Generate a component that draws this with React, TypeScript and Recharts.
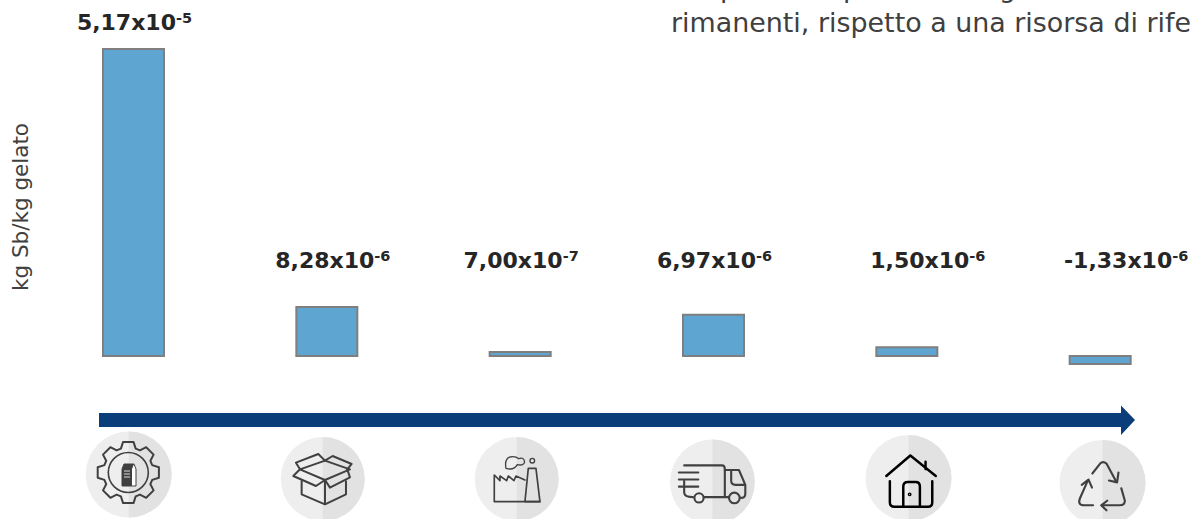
import React from 'react';
import { BarChart, Bar, XAxis, YAxis, Cell, LabelList } from 'recharts';

// values in units of 1e-6 kg Sb/kg gelato
const stages = ['materie prime', 'imballaggio', 'produzione', 'trasporto', 'consumo', 'fine vita'];
const values = [51.7, 8.28, 0.7, 6.97, 1.5, -1.33];
const mantissas = ['5,17', '8,28', '7,00', '6,97', '1,50', '-1,33'];
const exponents = ['-5', '-6', '-7', '-6', '-6', '-6'];

const data = stages.map((stage, i) => ({ stage, value: values[i] }));

const FONT = '"DejaVu Sans", Verdana, sans-serif';
const labelShift = [1, 6, 1, 1, 21, 26];

const ValueLabel = (props: any) => {
  const { x, width, index } = props;
  return (
    <text
      x={x + width / 2 + labelShift[index]}
      y={index === 0 ? 30 : 268}
      textAnchor="middle"
      fontFamily={FONT}
      fontWeight="bold"
      fontSize={22}
      fill="#262626"
    >
      {mantissas[index]}x10
      <tspan fontSize={14.5} dy={-7}>{exponents[index]}</tspan>
    </text>
  );
};

const Badge = ({ cx, cy, r }: { cx: number; cy: number; r: number }) => (
  <g>
    <circle cx={cx} cy={cy} r={r} fill="#eeeeee" />
    <path d={`M${cx} ${cy - r} A${r} ${r} 0 0 1 ${cx} ${cy + r} Z`} fill="#e2e2e2" />
  </g>
);

const Gear = () => {
  const pts: string[] = [];
  const cx = 128.3;
  const cy = 472.5;
  for (let i = 0; i < 8; i++) {
    const a = (i * Math.PI) / 4 - Math.PI / 2;
    const p = (r: number, d: number) =>
      `${(cx + r * Math.cos(a + d)).toFixed(1)} ${(cy + r * Math.sin(a + d)).toFixed(1)}`;
    pts.push(`${i === 0 ? 'M' : 'L'}${p(25, -0.3)}`, `L${p(31, -0.17)}`, `L${p(31, 0.17)}`, `L${p(25, 0.3)}`);
  }
  return (
    <g fill="none" stroke="#404040">
      <path d={pts.join(' ') + ' Z'} strokeWidth={2} strokeLinejoin="round" />
      <circle cx={cx} cy={cy} r={20} strokeWidth={1.6} />
      <path d="M122 469 L124 464 H134 L136 469 V486 H122 Z" fill="#fff" strokeWidth={1} />
      <path d="M122 469 H132 V486 H122 Z M124 464 H134 L132 469 H122 Z" fill="#404040" stroke="none" />
      <path d="M124 471 H130 M124 474 H130 M124 477 H130" stroke="#d9d9d9" strokeWidth={1} />
    </g>
  );
};

const Icons = () => (
  <g>
    <Badge cx={128.7} cy={474.5} r={43} />
    <Badge cx={322.7} cy={479} r={42} />
    <Badge cx={516.7} cy={479} r={42} />
    <Badge cx={712.4} cy={482} r={42.4} />
    <Badge cx={908.5} cy={478} r={43} />
    <Badge cx={1102.5} cy={483} r={43} />
    <Gear />
    <g transform="translate(60 400) scale(0.3333)" fill="none" stroke="#404040" strokeWidth={6} strokeLinejoin="round" strokeLinecap="round">
      {/* box */}
      <path d="M725 244 V283 L795 313 L858 283 V244 M795 240 V313" />
      <path d="M720 208 L795 182 L870 208 L795 240 Z" />
      <path d="M720 208 L708 188 L775 162 L795 182 L818 168 L875 192 L862 208" />
      <path d="M720 208 L700 228 L768 258 L795 240 L810 263 L870 232 L862 208" />
      {/* factory */}
      <path d="M1395 305 L1405 205 H1428 L1440 305 Z" strokeWidth={5} />
      <path d="M1303 305 V225 L1320 242 V228 L1340 242 L1345 228 L1362 242 L1368 228 L1395 240 M1303 305 H1440" strokeWidth={5} />
      <path d="M1338 205 Q1332 170 1358 170 Q1370 170 1376 176 Q1392 170 1394 186 Q1392 198 1372 194 Q1362 212 1338 205 Z" strokeWidth={4} />
      <circle cx={1417} cy={182} r={7} strokeWidth={4} />
    </g>
    <g transform="translate(640 400) scale(0.3534)" fill="none" stroke="#404040" strokeWidth={6} strokeLinejoin="round" strokeLinecap="round">
      {/* truck */}
      <path d="M125 185 H232 Q240 185 240 195 V275 M125 230 V262 Q125 275 150 275 M110 205 H165 M110 225 H165 M110 245 H165 M182 275 H250" />
      <circle cx={167} cy={277} r={13} />
      <circle cx={267} cy={277} r={15} />
      <path d="M240 198 H280 L298 240 V265 Q298 277 285 277 M258 202 V228 Q258 240 270 240 H297" />
      {/* house */}
      <g stroke="#000000" strokeWidth={7}>
        <path d="M697 215 L765 157 L837 215 M808 175 V195" />
        <path d="M707 230 V290 Q707 302 720 302 H815 Q827 302 827 290 V230" />
        <path d="M745 302 V245 Q745 232 758 232 H780 Q792 232 792 245 V302" />
        <circle cx={763} cy={267} r={2} />
      </g>
      {/* recycle */}
      <g transform="translate(-8 0)">
        <path d="M1288 208 L1310 180 Q1318 172 1328 180 L1355 230 M1335 228 L1358 233 L1362 205" />
        <path d="M1370 250 L1380 285 Q1380 298 1365 298 H1315 M1330 285 L1313 298 L1328 312" />
        <path d="M1290 298 H1265 Q1245 298 1253 278 L1275 228 M1258 240 L1277 225 L1287 248" />
      </g>
    </g>
  </g>
);

export default function App() {
  return (
    <div style={{ position: 'absolute', left: 0, top: 0, width: 1191, height: 519, overflow: 'hidden', background: '#fff' }}>
      <BarChart
        width={1197}
        height={519}
        data={data}
        margin={{ top: 49, right: 0, bottom: 155, left: 37 }}
        barCategoryGap={0}
      >
        <XAxis dataKey="stage" hide />
        <YAxis hide domain={[-1.33, 51.7]} />
        <Bar dataKey="value" barSize={61} fill="#5fa5d1" stroke="#7f7f7f" strokeWidth={2} isAnimationActive={false}>
          {data.map((d) => (
            <Cell key={d.stage} fill="#5fa5d1" />
          ))}
          <LabelList dataKey="value" content={ValueLabel} />
        </Bar>
      </BarChart>
      <svg width={1191} height={519} style={{ position: 'absolute', left: 0, top: 0 }}>
        <text transform="translate(28 207) rotate(-90)" textAnchor="middle" fontFamily={FONT} fontSize={21.5} fill="#404040">
          kg Sb/kg gelato
        </text>
        {/* only the descenders of the line above survive the crop */}
        <text y={-3} fontFamily={FONT} fontSize={26.9} fill="#404040">
          <tspan x={720}>p</tspan>
          <tspan x={843}>p</tspan>
          <tspan x={999}>g</tspan>
        </text>
        <text x={671} y={32} fontFamily={FONT} fontSize={26.9} fill="#404040">
          rimanenti, rispetto a una risorsa di rife
        </text>
        <path d="M99 413 H1121 V405.5 L1135 420 L1121 435 V427 H99 Z" fill="#0a3d7a" />
        <Icons />
      </svg>
    </div>
  );
}
